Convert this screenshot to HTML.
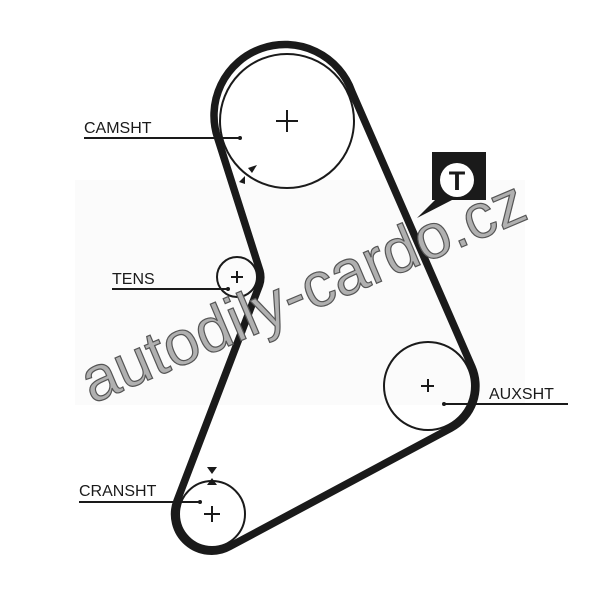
<!DOCTYPE html>
<html><head><style>body{margin:0;background:#fff}svg{display:block}</style></head><body>
<svg width="600" height="589" viewBox="0 0 600 589" xmlns="http://www.w3.org/2000/svg" font-family="Liberation Sans, sans-serif">
<rect width="600" height="589" fill="#fff"/>
<rect x="75" y="180" width="450" height="225" fill="#fbfbfb"/>
<g fill="none" stroke="#1a1a1a" stroke-width="2">
<circle cx="287" cy="121" r="67"/>
<circle cx="237" cy="277" r="20"/>
<circle cx="428" cy="386" r="44"/>
<circle cx="212" cy="514" r="33"/>
</g>
<path d="M352,92 L472,367 A48 48 0 0 1 450.8,428.2 L229.5,546.6 A37 37 0 0 1 177,501 L259.5,285 A24 24 0 0 0 260,271 L218,139 A71 71 0 0 1 352,92 Z" fill="none" stroke="#1a1a1a" stroke-width="7.5" stroke-linejoin="round"/>
<g stroke="#1a1a1a" stroke-width="2">
<path d="M276,121h22M287,110v22"/>
<path d="M231,277h12M237,271v12"/>
<path d="M421,386h13M428,379v13"/>
<path d="M204,514h16M212,506v16"/>
<path d="M84,138H240M112,289H228M444,404H568M79,502H200"/>
</g>
<g fill="#1a1a1a">
<circle cx="240" cy="138" r="2"/><circle cx="228" cy="289" r="2"/><circle cx="444" cy="404" r="2"/><circle cx="200" cy="502" r="2"/>
<path d="M248,168l9,-3l-5,8z"/><path d="M245,184l-6,-2l6,-6z"/>
<path d="M207,467h10l-5,7z"/><path d="M207,485h10l-5,-7z"/>
<path d="M432,152h54v48h-34l-35,18l18,-18h-3z"/>
</g>
<circle cx="457" cy="180" r="17" fill="#fff"/>
<text x="457" y="190" font-size="27" font-weight="bold" text-anchor="middle" fill="#1a1a1a">T</text>
<g font-size="16" fill="#1a1a1a">
<text x="84" y="133">CAMSHT</text>
<text x="112" y="284">TENS</text>
<text x="489" y="399">AUXSHT</text>
<text x="79" y="496">CRANSHT</text>
</g>
<text x="0" y="0" transform="translate(92,404) rotate(-23)" font-size="63" fill="#b0b0b0" stroke="#555" stroke-width="1.2">autodily-cardo.cz</text>
</svg>
</body></html>
